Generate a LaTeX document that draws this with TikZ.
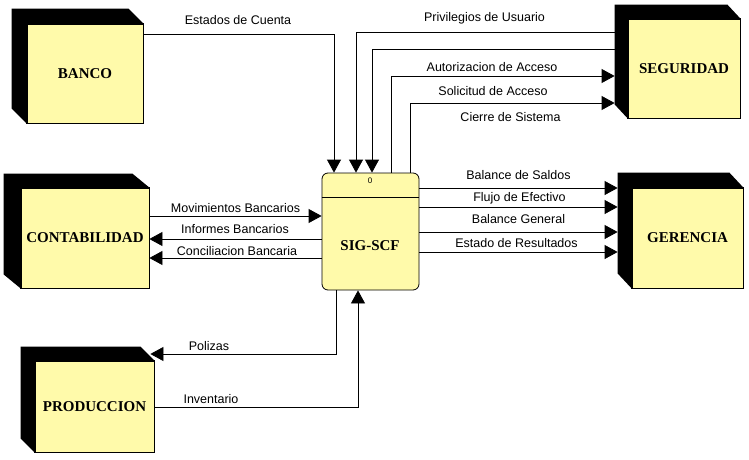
\documentclass[tikz,border=0pt]{standalone}
\usepackage{fontspec}
\setmainfont{Liberation Serif}
\setsansfont{Liberation Sans}
\usetikzlibrary{arrows.meta}
\definecolor{entfill}{RGB}{255,250,170}
\newcommand{\extrudebox}[3]{%
  \fill[black] (#1.south west) -- ([shift={(-#2,-#3)}]#1.south west)
    -- ([shift={(-#2,-#3)}]#1.north west) -- ([shift={(-#2,-#3)}]#1.north east)
    -- (#1.north east) -- (#1.north west) -- cycle;
  \draw[line width=0.8pt] (#1.north west) rectangle (#1.south east);
}
\tikzset{
  entity/.style={draw=black, fill=entfill, line width=0.8pt, inner sep=0pt,
    font=\bfseries\fontsize{15}{15}\selectfont},
  proc/.style={draw=black, fill=entfill, rounded corners=6pt, line width=0.8pt,
    minimum width=97pt, minimum height=117pt, inner sep=0pt},
  flow/.style={line width=0.8pt, -{Triangle[length=13pt,width=14pt]}},
  wire/.style={line width=0.8pt},
  lbl/.style={font=\sffamily\fontsize{12.5}{12.5}\selectfont, anchor=base, inner sep=0pt},
}
\begin{document}
\begin{tikzpicture}[x=1pt,y=-1pt]
\useasboundingbox (0,0) rectangle (749,460);
\fill[white] (0,0) rectangle (749,460);

% entities
\node[entity, minimum width=116pt, minimum height=99pt] (banco) at (85,73.5) {BANCO};
\extrudebox{banco}{15}{15}
\node[entity, minimum width=112pt, minimum height=99pt] (seg) at (684,68.5) {SEGURIDAD};
\extrudebox{seg}{13}{14}
\node[entity, minimum width=128pt, minimum height=100pt] (cont) at (85,238) {CONTABILIDAD};
\extrudebox{cont}{17}{14}
\node[entity, minimum width=111pt, minimum height=100pt] (ger) at (687.5,238) {GERENCIA};
\extrudebox{ger}{14}{15}
\node[entity, minimum width=119pt, minimum height=91pt] (prod) at (94.5,406.5) {PRODUCCION};
\extrudebox{prod}{14}{14}

% process
\node[proc] (sig) at (370.5,231.5) {};
\draw[wire] (sig.west |- 0,197) -- (sig.east |- 0,197);
\node[font=\sffamily\fontsize{8}{8}\selectfont, inner sep=0pt] (num) at (370,181) {0};
\node[font=\bfseries\fontsize{15}{15}\selectfont, inner sep=0pt] (sigt) at (370,246) {SIG-SCF};

\coordinate (segback) at ([xshift=-13pt]seg.west);
\coordinate (gerback) at ([xshift=-14pt]ger.west);
\coordinate (prodback) at ([xshift=-4pt]prod.east);

% flows
\draw[flow] (banco.east |- 0,34) -| (334,0 |- sig.north);
\draw[flow] (segback |- 0,32) -| (356,0 |- sig.north);
\draw[flow] (segback |- 0,49) -| (372,0 |- sig.north);
\draw[flow] (391,0 |- sig.north) |- (segback |- 0,76);
\draw[flow] (410,0 |- sig.north) |- (segback |- 0,103);

\draw[flow] (sig.east |- 0,188) -- (gerback |- 0,188);
\draw[flow] (sig.east |- 0,207) -- (gerback |- 0,207);
\draw[flow] (sig.east |- 0,232) -- (gerback |- 0,232);
\draw[flow] (sig.east |- 0,252) -- (gerback |- 0,252);

\draw[flow] (cont.east |- 0,216) -- (sig.west |- 0,216);
\draw[flow] (sig.west |- 0,239) -- (cont.east |- 0,239);
\draw[flow] (sig.west |- 0,258) -- (cont.east |- 0,258);

\draw[flow] (336,0 |- sig.south) |- (prodback |- 0,354);
\draw[flow] (prod.east |- 0,407) -| (358,0 |- sig.south);

% labels
\node[lbl] (l1) at (238,25) {Estados de Cuenta};
\node[lbl] (l2) at (484.5,22) {Privilegios de Usuario};
\node[lbl] (l3) at (492,71) {Autorizacion de Acceso};
\node[lbl] (l4) at (493,95) {Solicitud de Acceso};
\node[lbl] (l5) at (510.5,121) {Cierre de Sistema};
\node[lbl] (l6) at (518.5,179) {Balance de Saldos};
\node[lbl] (l7) at (519.5,201) {Flujo de Efectivo};
\node[lbl] (l8) at (518.5,223) {Balance General};
\node[lbl] (l9) at (516.5,247) {Estado de Resultados};
\node[lbl] (l10) at (235.5,212) {Movimientos Bancarios};
\node[lbl] (l11) at (235,233) {Informes Bancarios};
\node[lbl] (l12) at (237,255) {Conciliacion Bancaria};
\node[lbl] (l13) at (209,350) {Polizas};
\node[lbl] (l14) at (211,403.5) {Inventario};
\end{tikzpicture}
\end{document}
